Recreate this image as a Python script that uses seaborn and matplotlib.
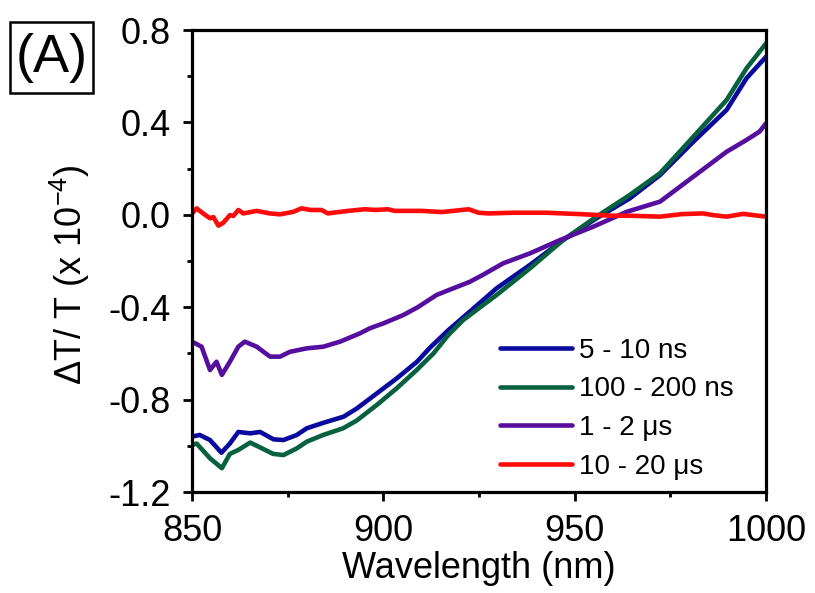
import numpy as np
import pandas as pd
import matplotlib
matplotlib.use("Agg")
import matplotlib.pyplot as plt
import seaborn as sns
from matplotlib.ticker import MultipleLocator
from matplotlib.patches import Rectangle

# Transient transmission spectra (dT/T in units of 1e-4) for four delay windows
wl_5_10ns = [850, 852, 854.7, 857.7, 859.9, 862.1, 865.2, 867.8, 871.3, 873.9,
             877.4, 880, 884.4, 889.6, 893.1, 898.3, 903.5, 908.8, 912.2, 917,
             922.6, 929.6, 938.3, 947, 955.7, 964.4, 972.3, 981, 989.7, 994.9, 1000]
dt_5_10ns = [-0.96, -0.953, -0.975, -1.03, -0.99, -0.94, -0.946, -0.94, -0.972, -0.975,
             -0.953, -0.924, -0.90, -0.874, -0.838, -0.773, -0.708, -0.636, -0.575, -0.499,
             -0.419, -0.318, -0.217, -0.109, -0.015, 0.071, 0.172, 0.316, 0.454, 0.591, 0.684]

wl_100_200ns = [850, 851.2, 854.7, 857.8, 859.9, 862.1, 865.2, 867.8, 871.2, 873.9,
                877.4, 880, 884.3, 889.5, 893, 898.3, 903.5, 908.7, 913.1, 917,
                920.9, 929.6, 938.3, 947, 955.7, 964.4, 972.3, 981, 989.7, 994.9, 1000]
dt_100_200ns = [-0.997, -0.99, -1.054, -1.097, -1.035, -1.018, -0.986, -1.007, -1.035, -1.04,
                -1.011, -0.982, -0.953, -0.924, -0.891, -0.823, -0.751, -0.672, -0.6, -0.52,
                -0.455, -0.347, -0.232, -0.109, -0.008, 0.086, 0.18, 0.338, 0.497, 0.634, 0.742]

wl_1_2us = [850, 852.5, 854.7, 856.4, 857.8, 859.9, 862.1, 863.8, 866.9, 870.4,
            873, 875.6, 880, 884.3, 888.7, 893.9, 896.5, 900, 905.2, 909,
            913.9, 918, 922.6, 926, 931.3, 938.3, 946.2, 954.9, 963.6, 972.3,
            981, 989.7, 994.9, 998.3, 1000]
dt_1_2us = [-0.549, -0.571, -0.672, -0.636, -0.693, -0.636, -0.571, -0.549, -0.571, -0.614,
            -0.614, -0.593, -0.578, -0.571, -0.549, -0.513, -0.491, -0.47, -0.434, -0.40,
            -0.347, -0.32, -0.29, -0.26, -0.21, -0.167, -0.109, -0.051, 0.013, 0.057,
            0.165, 0.273, 0.324, 0.36, 0.396]

wl_10_20us = [850, 851.2, 852.9, 854.7, 855.6, 856.9, 858.2, 859.9, 860.8, 862.1,
              863.4, 866.9, 870.3, 873, 876.5, 878.6, 881, 883.8, 885.5, 887.3,
              890.8, 895.1, 898, 901.2, 903, 910, 915.3, 922.3, 924.9, 927.5,
              933.9, 942.6, 951.3, 960, 964.4, 972.3, 978, 983.6, 986, 989.7,
              994, 1000]
dt_10_20us = [0.006, 0.028, 0.006, -0.015, -0.01, -0.047, -0.034, -0.001, -0.005, 0.021,
              0.006, 0.017, 0.006, 0.002, 0.013, 0.028, 0.021, 0.021, 0.006, 0.01,
              0.017, 0.024, 0.021, 0.024, 0.017, 0.017, 0.012, 0.024, 0.009, 0.006,
              0.009, 0.009, 0.003, -0.004, -0.004, -0.008, 0.003, 0.006, -0.001, -0.008,
              0.004, -0.008]

labels = ["5 - 10 ns", "100 - 200 ns", "1 - 2 \u03bcs", "10 - 20 \u03bcs"]
colors = ["#0A0A9E", "#07613F", "#560E9E", "#FF0A0A"]

x_ticks = [850, 900, 950, 1000]
y_ticks = [-1.2, -0.8, -0.4, 0.0, 0.4, 0.8]

frames = []
for lab, wl, dt in zip(labels,
                       [wl_5_10ns, wl_100_200ns, wl_1_2us, wl_10_20us],
                       [dt_5_10ns, dt_100_200ns, dt_1_2us, dt_10_20us]):
    frames.append(pd.DataFrame({"wl": wl, "dt": dt, "delay": lab}))
df = pd.concat(frames, ignore_index=True)

sns.set_style("ticks")
plt.rcParams["font.family"] = ["Liberation Sans", "DejaVu Sans"]
plt.rcParams["mathtext.default"] = "regular"
plt.rcParams["text.color"] = "black"
plt.rcParams["axes.labelcolor"] = "black"

fig = plt.figure(figsize=(8.15, 5.93), dpi=100)
ax = fig.add_axes([0.2356, 0.1703, 0.7043, 0.7791])

sns.lineplot(data=df, x="wl", y="dt", hue="delay", hue_order=labels,
             palette=colors, linewidth=3.3, sort=False, estimator=None,
             ax=ax, legend=True)

ax.set_xlim(850, 1000)
ax.set_ylim(-1.2, 0.8)
ax.set_xticks(x_ticks)
ax.set_xticklabels([str(t) for t in x_ticks])
ax.set_yticks(y_ticks)
ax.set_yticklabels([f"{t:.1f}" for t in y_ticks])
ax.xaxis.set_minor_locator(MultipleLocator(25))
ax.yaxis.set_minor_locator(MultipleLocator(0.2))

for sp in ax.spines.values():
    sp.set_linewidth(2.3)
    sp.set_color("black")

ax.tick_params(axis="both", which="major", direction="out", length=6.5,
               width=2.0, labelsize=26, pad=9, colors="black",
               labelcolor="black", top=False, right=False)
ax.tick_params(axis="both", which="minor", direction="out", length=3.5,
               width=2.0, colors="black", top=False, right=False)

ax.set_xlabel("Wavelength (nm)", fontsize=26, labelpad=2, color="black")
ax.set_ylabel("\u0394T/ T (x 10$^{-4}$)", fontsize=26, color="black")
ax.yaxis.set_label_coords(-0.175, 0.47)

handles, labs = ax.get_legend_handles_labels()
leg = ax.legend(handles, labs, loc="upper left",
                bbox_to_anchor=(500 / 815, 1 - 338 / 593),
                bbox_transform=fig.transFigure,
                frameon=False, fontsize=20, handlelength=2.6,
                handletextpad=0.25, labelspacing=0.45,
                borderaxespad=0, borderpad=0)
for line in leg.get_lines():
    line.set_linewidth(3.3)
for txt in leg.get_texts():
    txt.set_color("black")

# Panel tag with a framed box
W, H = 815, 593
fig.add_artist(Rectangle((10 / W, 1 - 93 / H), 83 / W, 71 / H,
                         transform=fig.transFigure, facecolor="white",
                         edgecolor="black", linewidth=1.8))
fig.text(51.5 / W, 1 - 58 / H, "(A)", fontsize=39, ha="center", va="center",
         color="black")

fig.savefig("out.png", dpi=100)
